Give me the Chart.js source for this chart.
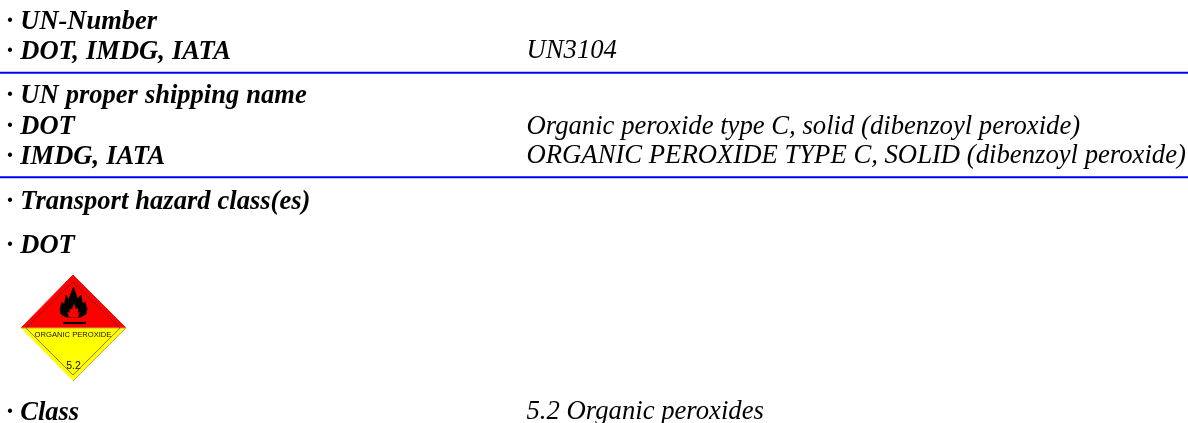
<!DOCTYPE html>
<html><head><meta charset="utf-8">
<script src="https://cdn.jsdelivr.net/npm/chart.js@4"></script>
<style>html,body{margin:0;padding:0;background:#fff}#w{position:relative;width:1188px;height:423px}</style>
</head><body><div id="w"><canvas id="c"></canvas></div>
<script>
const headings = ["· UN-Number","· DOT, IMDG, IATA","· UN proper shipping name","· DOT","· IMDG, IATA","· Transport hazard class(es)","· DOT","· Class"];
const headingRows = [29,59,103,134,164,209,253,420];
const details = ["UN3104","Organic peroxide type C, solid (dibenzoyl peroxide)","ORGANIC PEROXIDE TYPE C, SOLID (dibenzoyl peroxide)","5.2 Organic peroxides"];
const detailRows = [58,133.5,163,419];
const dividerRows = [72.7,177.3];
const redHalf = [[21,328],[73,275],[126,328]];
const yellowHalf = [[21,328],[126,328],[73,381]];
const innerBorder = [[26,328],[73,282],[120,328],[73,375],[26,328]];
const flame = [[66,317],[61,314],[60,309],[62,302],[64.5,305],[66,295],[68.5,300],[73.5,287],[77.5,299],[81,295],[82.5,304],[85,302],[87,309],[86,314],[81,317],[66,317]];
const flameCore = [[74,304],[75.5,309],[78,308.5],[77.5,313],[79.5,312],[78,317],[69,317],[67.5,312],[70,313],[69.5,309],[72,309.5],[74,304]];
const flameBar = [[63,323],[86,323]];
const plateText = [["ORGANIC PEROXIDE",73,337],["5.2",73.5,369]];
const pt = a => a.map(([x,y])=>({x,y}));
const poly = (data,fillC,lineC,w)=>({type:'scatter',data:pt(data),showLine:true,pointRadius:0,fill:fillC?'shape':false,backgroundColor:fillC||'transparent',borderColor:lineC,borderWidth:w,tension:0});
// first dataset is painted last
const datasets = [
  poly(flameBar,null,'#000000',2.2),
  poly(flameCore,'#ff0000','#ff0000',0.3),
  poly(flame,'#000000','#000000',0.8),
  poly(innerBorder,null,'#4a2a10',0.6),
  poly(yellowHalf,'#ffff00','#c4a860',1),
  poly(redHalf,'#ff0000','#ee1111',1),
  ...dividerRows.map(y=>poly([[0,y],[1188,y]],null,'#0000f0',2)),
];
const textPlugin = {id:'docText',afterDatasetsDraw(chart){
  const {ctx,scales:{x,y}}=chart;
  ctx.save();ctx.fillStyle='#000';ctx.textBaseline='alphabetic';ctx.textAlign='left';
  ctx.font='italic bold 26.5px "Liberation Serif"';
  ctx.wordSpacing='0.5px';
  headings.forEach((t,i)=>ctx.fillText(t,x.getPixelForValue(6.5),y.getPixelForValue(headingRows[i])));
  ctx.wordSpacing='0px';
  ctx.font='italic 26.7px "Liberation Serif"';
  details.forEach((t,i)=>ctx.fillText(t,x.getPixelForValue(526.5),y.getPixelForValue(detailRows[i])));
  ctx.textAlign='center';ctx.fillStyle='#111';
  ctx.font='7.6px "Liberation Sans"';
  ctx.fillText(plateText[0][0],x.getPixelForValue(plateText[0][1]),y.getPixelForValue(plateText[0][2]));
  ctx.font='10.5px "Liberation Sans"';
  ctx.fillText(plateText[1][0],x.getPixelForValue(plateText[1][1]),y.getPixelForValue(plateText[1][2]));
  ctx.restore();
}};
new Chart(document.getElementById('c'),{type:'scatter',data:{datasets},plugins:[textPlugin],options:{
  responsive:true,maintainAspectRatio:false,animation:false,
  layout:{padding:0},
  plugins:{legend:{display:false},tooltip:{enabled:false},title:{display:false}},
  scales:{x:{type:'linear',min:0,max:1188,display:false},y:{type:'linear',min:0,max:423,reverse:true,display:false}}
}});
</script></body></html>
